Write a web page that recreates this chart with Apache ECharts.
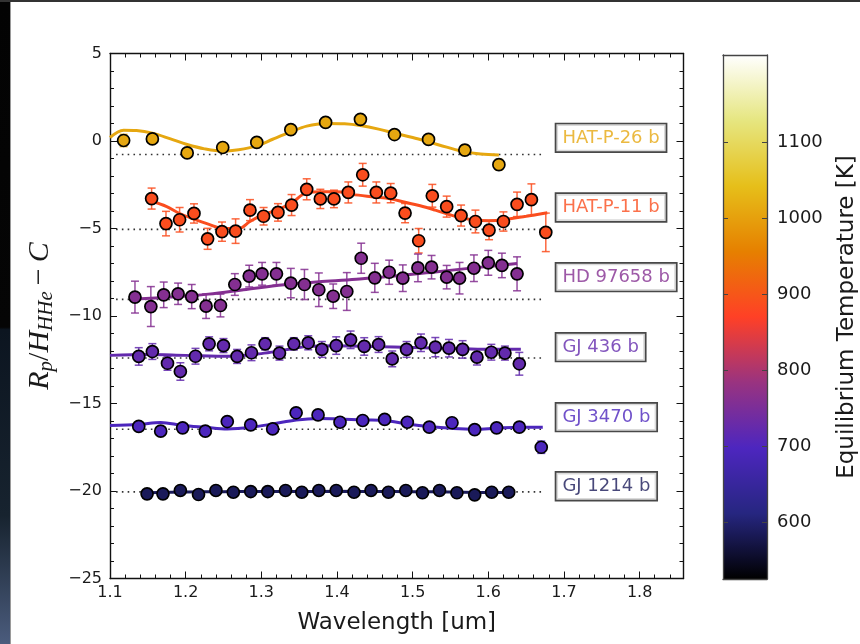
<!DOCTYPE html>
<html>
<head>
<meta charset="utf-8">
<script src="https://cdn.jsdelivr.net/npm/echarts@6/dist/echarts.min.js"></script>
<style>
  html, body { margin: 0; padding: 0; background: #ffffff; }
  #chart { width: 860px; height: 644px; }
</style>
</head>
<body>
<div id="chart"></div>
<script>
// ---------------- data ----------------
const planetNames = ['HAT-P-26 b', 'HAT-P-11 b', 'HD 97658 b', 'GJ 436 b', 'GJ 3470 b', 'GJ 1214 b'];
const planetTeq = [1010, 888, 760, 722, 695, 585];           // equilibrium temperature [K]
const baselineLevel = [-0.77, -5.05, -9.05, -12.4, -16.47, -20.05];
const baselineWave = [1.108, 1.675];
const labelWave = 1.69;
const labelLevel = [0.18, -3.8, -7.78, -11.78, -15.78, -19.73];

const tempRange = [525, 1215];
const tempTicks = [600, 700, 800, 900, 1000, 1100];

// HAT-P-26 b
const hatp26Wave  = [1.118, 1.156, 1.202, 1.249, 1.294, 1.339, 1.385, 1.431, 1.476, 1.521, 1.569, 1.614];
const hatp26Depth = [0.03, 0.12, -0.68, -0.37, -0.08, 0.65, 1.06, 1.24, 0.37, 0.09, -0.52, -1.35];
const hatp26Err   = [0.35, 0.2, 0.15, 0.15, 0.15, 0.15, 0.15, 0.2, 0.15, 0.15, 0.3, 0.3];
const hatp26ModelWave = [1.100, 1.118, 1.135, 1.156, 1.180, 1.202, 1.225, 1.249, 1.270, 1.294, 1.315, 1.339, 1.360, 1.385, 1.410, 1.431, 1.455, 1.476, 1.500, 1.521, 1.545, 1.569, 1.590, 1.614];
const hatp26Model     = [0.20, 0.62, 0.60, 0.45, 0.12, -0.20, -0.45, -0.58, -0.50, -0.28, 0.10, 0.52, 0.85, 1.00, 0.98, 0.88, 0.68, 0.45, 0.20, -0.05, -0.35, -0.62, -0.74, -0.80];

// HAT-P-11 b
const hatp11Wave  = [1.155, 1.174, 1.192, 1.211, 1.229, 1.248, 1.266, 1.285, 1.303, 1.322, 1.340, 1.360, 1.378, 1.396, 1.415,
                     1.434, 1.452, 1.471, 1.490, 1.508, 1.526, 1.545, 1.564, 1.583, 1.601, 1.620, 1.638, 1.657, 1.676];
const hatp11Depth = [-3.29, -4.72, -4.50, -4.14, -5.59, -5.18, -5.15, -3.95, -4.30, -4.08, -3.66, -2.76, -3.31, -3.31, -2.94,
                     -1.93, -2.94, -2.98, -4.12, -5.70, -3.13, -3.75, -4.26, -4.60, -5.09, -4.60, -3.62, -3.35, -5.22];
const hatp11Err   = [0.6, 0.7, 0.7, 0.55, 0.6, 0.55, 0.7, 0.6, 0.5, 0.5, 0.6, 0.6, 0.55, 0.5, 0.6,
                     0.65, 0.6, 0.55, 0.55, 0.7, 0.65, 0.6, 0.6, 0.65, 0.55, 0.55, 0.7, 0.9, 1.1];
const hatp11ModelWave = [1.153, 1.175, 1.190, 1.210, 1.230, 1.250, 1.270, 1.285, 1.300, 1.320, 1.340, 1.360, 1.380, 1.400, 1.420,
                         1.450, 1.470, 1.490, 1.510, 1.530, 1.560, 1.580, 1.600, 1.620, 1.650, 1.678];
const hatp11Model     = [-3.40, -3.75, -4.10, -4.45, -4.75, -5.00, -5.00, -4.60, -4.25, -3.95, -3.55, -2.95, -2.90, -2.90, -3.05,
                         -3.20, -3.30, -3.50, -3.70, -3.95, -4.35, -4.50, -4.55, -4.50, -4.30, -4.10];

// HD 97658 b
const hd97658Wave  = [1.133, 1.154, 1.171, 1.190, 1.208, 1.227, 1.246, 1.265, 1.284, 1.301, 1.320, 1.339, 1.357, 1.376,
                      1.395, 1.413, 1.432, 1.450, 1.469, 1.487, 1.507, 1.525, 1.545, 1.562, 1.581, 1.600, 1.618, 1.638];
const hd97658Depth = [-8.92, -9.46, -8.79, -8.73, -8.89, -9.44, -9.40, -8.20, -7.72, -7.59, -7.59, -8.12, -8.20, -8.50,
                      -8.87, -8.60, -6.70, -7.82, -7.50, -7.84, -7.25, -7.21, -7.78, -7.84, -7.27, -6.96, -7.11, -7.59];
const hd97658Err   = [0.91, 1.14, 0.73, 0.61, 0.69, 0.70, 0.65, 0.62, 0.62, 0.65, 0.65, 0.84, 0.86, 0.96,
                      0.70, 1.08, 0.86, 0.83, 0.69, 0.76, 0.79, 0.67, 0.67, 0.90, 0.76, 0.71, 0.70, 0.97];
const hd97658ModelWave = [1.133, 1.180, 1.230, 1.280, 1.330, 1.380, 1.430, 1.480, 1.530, 1.580, 1.638];
const hd97658Model     = [-9.03, -8.92, -8.75, -8.48, -8.22, -8.03, -7.88, -7.70, -7.48, -7.25, -7.00];

// GJ 436 b
const gj436Wave  = [1.138, 1.156, 1.176, 1.193, 1.213, 1.231, 1.250, 1.268, 1.287, 1.305, 1.324, 1.343, 1.362, 1.380,
                    1.399, 1.418, 1.436, 1.455, 1.473, 1.492, 1.511, 1.530, 1.548, 1.566, 1.585, 1.604, 1.622, 1.641];
const gj436Depth = [-12.31, -12.03, -12.70, -13.17, -12.30, -11.59, -11.69, -12.31, -12.10, -11.59, -12.12, -11.59, -11.53, -11.91,
                    -11.69, -11.36, -11.74, -11.63, -12.45, -11.91, -11.53, -11.78, -11.84, -11.91, -12.35, -12.07, -12.12, -12.73];
const gj436Err   = [0.5, 0.45, 0.4, 0.5, 0.45, 0.4, 0.4, 0.4, 0.45, 0.35, 0.4, 0.35, 0.4, 0.45,
                    0.5, 0.5, 0.5, 0.45, 0.45, 0.45, 0.5, 0.55, 0.5, 0.5, 0.45, 0.45, 0.4, 0.65];
const gj436ModelWave = [1.100, 1.150, 1.200, 1.260, 1.300, 1.330, 1.360, 1.400, 1.450, 1.500, 1.550, 1.600, 1.643];
const gj436Model     = [-12.25, -12.20, -12.25, -12.30, -12.15, -11.95, -11.75, -11.70, -11.75, -11.80, -11.85, -11.90, -11.90];

// GJ 3470 b
const gj3470Wave  = [1.138, 1.167, 1.196, 1.226, 1.255, 1.286, 1.315, 1.346, 1.375, 1.404, 1.434, 1.463, 1.493, 1.522,
                     1.552, 1.582, 1.611, 1.641, 1.670];
const gj3470Depth = [-16.31, -16.58, -16.39, -16.58, -16.03, -16.22, -16.45, -15.53, -15.65, -16.07, -15.97, -15.91, -16.07, -16.35,
                     -16.10, -16.49, -16.39, -16.35, -17.50];
const gj3470Err   = [0.15, 0.15, 0.15, 0.15, 0.15, 0.15, 0.15, 0.15, 0.15, 0.15, 0.15, 0.15, 0.15, 0.15,
                     0.15, 0.15, 0.15, 0.15, 0.35];
const gj3470ModelWave = [1.100, 1.138, 1.167, 1.196, 1.226, 1.255, 1.286, 1.315, 1.346, 1.375, 1.404, 1.434, 1.463, 1.493,
                         1.522, 1.552, 1.582, 1.611, 1.641, 1.672];
const gj3470Model     = [-16.26, -16.20, -16.08, -16.26, -16.36, -16.45, -16.36, -16.17, -15.94, -15.85, -15.88, -15.94, -15.97, -16.17,
                         -16.32, -16.42, -16.47, -16.41, -16.36, -16.36];

// GJ 1214 b
const gj1214Wave  = [1.149, 1.170, 1.193, 1.217, 1.240, 1.263, 1.286, 1.3085, 1.332, 1.3535, 1.376, 1.399, 1.4225, 1.445,
                     1.468, 1.491, 1.513, 1.5355, 1.5585, 1.582, 1.6045, 1.627];
const gj1214Depth = [-20.16, -20.16, -19.97, -20.20, -19.97, -20.07, -20.03, -20.03, -19.97, -20.07, -19.97, -19.97, -20.07, -19.97,
                     -20.07, -19.97, -20.10, -19.97, -20.10, -20.22, -20.07, -20.07];
const gj1214Err   = [0.1, 0.1, 0.1, 0.1, 0.1, 0.1, 0.1, 0.1, 0.1, 0.1, 0.1, 0.1, 0.1, 0.1,
                     0.1, 0.1, 0.1, 0.1, 0.1, 0.1, 0.1, 0.1];
const gj1214ModelWave = [1.149, 1.200, 1.250, 1.300, 1.350, 1.400, 1.450, 1.500, 1.550, 1.600, 1.627];
const gj1214Model     = [-20.10, -20.06, -20.04, -20.03, -20.03, -20.02, -20.03, -20.04, -20.06, -20.08, -20.08];

const spectra = [
  { wave: hatp26Wave,  depth: hatp26Depth,  err: hatp26Err,  mWave: hatp26ModelWave,  model: hatp26Model },
  { wave: hatp11Wave,  depth: hatp11Depth,  err: hatp11Err,  mWave: hatp11ModelWave,  model: hatp11Model },
  { wave: hd97658Wave, depth: hd97658Depth, err: hd97658Err, mWave: hd97658ModelWave, model: hd97658Model },
  { wave: gj436Wave,   depth: gj436Depth,   err: gj436Err,   mWave: gj436ModelWave,   model: gj436Model },
  { wave: gj3470Wave,  depth: gj3470Depth,  err: gj3470Err,  mWave: gj3470ModelWave,  model: gj3470Model },
  { wave: gj1214Wave,  depth: gj1214Depth,  err: gj1214Err,  mWave: gj1214ModelWave,  model: gj1214Model }
];

// ---------------- colour map (CMRmap) ----------------
const cmrStops = [
  [0, 0, 0], [38, 38, 128], [77, 38, 191], [153, 51, 128], [255, 64, 38],
  [230, 128, 0], [230, 191, 26], [230, 230, 128], [255, 255, 255]
];
function cmr(t) {
  t = Math.max(0, Math.min(1, t));
  const pos = t * (cmrStops.length - 1);
  const i = Math.min(Math.floor(pos), cmrStops.length - 2);
  const f = pos - i;
  const a = cmrStops[i], b = cmrStops[i + 1];
  const c = a.map((v, k) => Math.round(v + (b[k] - v) * f));
  return 'rgb(' + c.join(',') + ')';
}
function tempColor(T) { return cmr((T - tempRange[0]) / (tempRange[1] - tempRange[0])); }

const FONT = 'DejaVu Sans';
const INK = '#1a1a1a';
const minus = v => (v < 0 ? '\u2212' + Math.abs(v) : String(v));

// ---------------- series ----------------
function errorBarItem(params, api) {
  const x = api.value(0), y = api.value(1), e = api.value(2);
  const hi = api.coord([x, y + e]);
  const lo = api.coord([x, y - e]);
  const cap = 4;
  const style = { stroke: api.visual('color'), lineWidth: 1.5, opacity: 0.85 };
  return {
    type: 'group',
    children: [
      { type: 'line', shape: { x1: hi[0], y1: hi[1], x2: lo[0], y2: lo[1] }, style },
      { type: 'line', shape: { x1: hi[0] - cap, y1: hi[1], x2: hi[0] + cap, y2: hi[1] }, style },
      { type: 'line', shape: { x1: lo[0] - cap, y1: lo[1], x2: lo[0] + cap, y2: lo[1] }, style }
    ]
  };
}

const series = [];
spectra.forEach((s, i) => {
  const color = tempColor(planetTeq[i]);
  // dotted reference level
  series.push({
    type: 'line', xAxisIndex: 0, yAxisIndex: 0, z: 1, silent: true,
    data: baselineWave.map(w => [w, baselineLevel[i]]),
    showSymbol: false, symbol: 'none',
    lineStyle: { color: '#333', width: 1.6, type: [1.6, 4.2] }
  });
  // error bars
  series.push({
    type: 'custom', xAxisIndex: 0, yAxisIndex: 0, z: 2, silent: true,
    renderItem: errorBarItem,
    itemStyle: { color },
    encode: { x: 0, y: 1 },
    data: s.wave.map((w, k) => [w, s.depth[k], s.err[k]])
  });
  // model spectrum
  series.push({
    type: 'line', xAxisIndex: 0, yAxisIndex: 0, z: 3, silent: true,
    data: s.mWave.map((w, k) => [w, s.model[k]]),
    smooth: 0.35, showSymbol: false, symbol: 'none',
    lineStyle: { color, width: 3 }
  });
  // measured points
  series.push({
    type: 'scatter', xAxisIndex: 0, yAxisIndex: 0, z: 4, silent: true,
    data: s.wave.map((w, k) => [w, s.depth[k]]),
    symbol: 'circle', symbolSize: 12,
    itemStyle: { color, borderColor: '#000', borderWidth: 1.7, opacity: 1 }
  });
  // planet name box
  series.push({
    type: 'scatter', xAxisIndex: 0, yAxisIndex: 0, z: 5, silent: true,
    data: [[labelWave, labelLevel[i]]],
    symbolSize: 0,
    label: {
      show: true, position: 'right', distance: 0,
      formatter: planetNames[i],
      color, fontFamily: FONT, fontSize: 18,
      backgroundColor: '#ffffff', borderColor: '#1a1a1a', borderWidth: 1.7,
      padding: [5, 6, 4, 6]
    }
  });
});

// colour bar fill
const barStops = cmrStops.slice().reverse().map((c, k) => ({
  offset: k / (cmrStops.length - 1), color: 'rgb(' + c.join(',') + ')'
}));
series.push({
  type: 'custom', xAxisIndex: 2, yAxisIndex: 2, z: 1, silent: true,
  data: [[0, tempRange[0], tempRange[1]]],
  renderItem(params, api) {
    const p0 = api.coord([0, api.value(2)]);
    const p1 = api.coord([1, api.value(1)]);
    return {
      type: 'rect',
      shape: { x: p0[0], y: p0[1], width: p1[0] - p0[0], height: p1[1] - p0[1] },
      style: { fill: new echarts.graphic.LinearGradient(0, 0, 0, 1, barStops) }
    };
  }
});

// ---------------- axes ----------------
const frameLine = { show: true, onZero: false, lineStyle: { color: '#111', width: 1.4 } };
const mainX = {
  type: 'value', gridIndex: 0, min: 1.1, max: 1.858, interval: 0.1,
  axisLine: frameLine,
  axisTick: { show: true, inside: true, length: 7, lineStyle: { color: '#111', width: 1 } },
  minorTick: { show: true, splitNumber: 5, length: 4, lineStyle: { color: '#111', width: 1 } },
  splitLine: { show: false }
};
const mainY = {
  type: 'value', gridIndex: 0, min: -25, max: 5, interval: 5,
  axisLine: frameLine,
  axisTick: { show: true, inside: true, length: 7, lineStyle: { color: '#111', width: 1 } },
  minorTick: { show: true, splitNumber: 5, length: 4, lineStyle: { color: '#111', width: 1 } },
  splitLine: { show: false }
};
const barFrame = { show: true, onZero: false, lineStyle: { color: '#444', width: 1.3 } };

const option = {
  animation: false,
  backgroundColor: '#ffffff',
  grid: [
    { left: 110, right: 176.5, top: 53.5, bottom: 65.5 },
    { left: 723, width: 44, top: 55, height: 524 }
  ],
  xAxis: [
    Object.assign({}, mainX, {
      position: 'bottom',
      name: 'Wavelength [um]', nameLocation: 'middle', nameGap: 33,
      nameTextStyle: { fontFamily: FONT, fontSize: 23, color: INK },
      axisLabel: {
        show: true, margin: 6, color: INK, fontFamily: FONT, fontSize: 16,
        showMaxLabel: false, formatter: v => v.toFixed(1)
      }
    }),
    Object.assign({}, mainX, { position: 'top', axisLabel: { show: false } }),
    { type: 'value', gridIndex: 1, min: 0, max: 1, position: 'bottom', z: 3,
      axisLine: barFrame, axisTick: { show: false }, axisLabel: { show: false }, splitLine: { show: false } },
    { type: 'value', gridIndex: 1, min: 0, max: 1, position: 'top', z: 3,
      axisLine: barFrame, axisTick: { show: false }, axisLabel: { show: false }, splitLine: { show: false } }
  ],
  yAxis: [
    Object.assign({}, mainY, {
      position: 'left',
      name: '{i|R}{s|p}{n|/}{i|H}{s|HHe}{n|\u2009\u2212\u2009}{i|C}',
      nameLocation: 'middle', nameRotate: 90, nameGap: 52,
      nameTextStyle: {
        rich: {
          i: { fontFamily: 'Liberation Serif', fontStyle: 'italic', fontSize: 30, color: INK },
          n: { fontFamily: 'Liberation Serif', fontSize: 30, color: INK },
          s: { fontFamily: 'Liberation Serif', fontStyle: 'italic', fontSize: 21, color: INK, padding: [14, 0, 0, 0] }
        }
      },
      axisLabel: { show: true, margin: 8, color: INK, fontFamily: FONT, fontSize: 16, formatter: minus }
    }),
    Object.assign({}, mainY, { position: 'right', axisLabel: { show: false } }),
    { type: 'value', gridIndex: 1, min: tempRange[0], max: tempRange[1], position: 'right', z: 3,
      axisLine: barFrame,
      axisTick: { show: true, inside: true, length: 5, customValues: tempTicks, lineStyle: { color: '#444', width: 1 } },
      axisLabel: { show: true, inside: false, margin: 10, customValues: tempTicks, color: INK, fontFamily: FONT, fontSize: 18,
                   formatter: v => String(v) },
      splitLine: { show: false },
      name: 'Equilibrium Temperature [K]', nameLocation: 'middle', nameRotate: 90, nameGap: 69,
      nameTextStyle: { fontFamily: FONT, fontSize: 23, color: INK }
    },
    { type: 'value', gridIndex: 1, min: tempRange[0], max: tempRange[1], position: 'left', z: 3,
      axisLine: barFrame,
      axisTick: { show: true, inside: true, length: 5, customValues: tempTicks, lineStyle: { color: '#444', width: 1 } },
      axisLabel: { show: false }, splitLine: { show: false } }
  ],
  graphic: [
    { type: 'rect', left: 0, top: 0, z: 100, silent: true,
      shape: { width: 10, height: 644 },
      style: { fill: new echarts.graphic.LinearGradient(0, 0, 0, 1, [
        { offset: 0, color: '#030303' }, { offset: 0.508, color: '#050505' },
        { offset: 0.512, color: '#0c1520' }, { offset: 0.8, color: '#17232f' }, { offset: 1, color: '#4b5c7d' }
      ]) } },
    { type: 'rect', left: 10, top: 0, z: 100, silent: true, shape: { width: 1, height: 644 }, style: { fill: '#9a9a9a' } },
    { type: 'rect', left: 0, top: 0, z: 100, silent: true, shape: { width: 860, height: 2 }, style: { fill: '#333' } }
  ],
  series
};

const chart = echarts.init(document.getElementById('chart'), null, { renderer: 'canvas' });
chart.setOption(option);
</script>
</body>
</html>
